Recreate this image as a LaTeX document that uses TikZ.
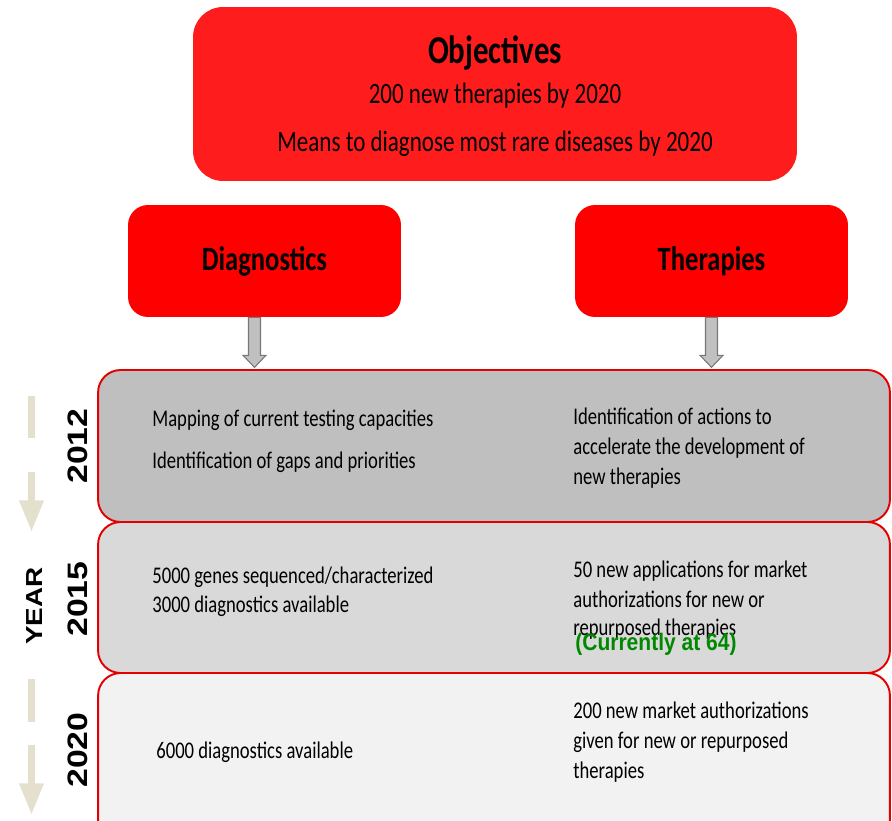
\documentclass[tikz,border=0pt]{standalone}
\usepackage{fontspec}
\setmainfont{Carlito}[FakeStretch=0.78]
\newfontfamily\yearfont{Liberation Sans}[FakeStretch=1.2]
\newfontfamily\nowfont{Liberation Sans}[FakeStretch=0.88]
\usetikzlibrary{arrows.meta,positioning}
\definecolor{objred}{RGB}{255,28,28}
\definecolor{headred}{RGB}{255,0,0}
\definecolor{rimred}{RGB}{228,0,0}
\definecolor{row2012}{RGB}{191,191,191}
\definecolor{row2015}{RGB}{217,217,217}
\definecolor{row2020}{RGB}{242,242,242}
\definecolor{yeartan}{RGB}{229,223,205}
\definecolor{arrowgray}{RGB}{192,192,192}
\definecolor{arrowrim}{RGB}{120,120,120}
\definecolor{nowgreen}{RGB}{0,136,0}

\begin{document}
\begin{tikzpicture}[x=0.02cm, y=-0.02cm,
        headbox/.style={fill=headred, rounded corners=0.4cm, minimum width=5.46cm, minimum height=2.24cm,
                font=\bfseries\fontsize{19.4}{22}\selectfont},
        rowbox/.style={draw=rimred, line width=1.1pt, rounded corners=0.45cm, minimum width=15.84cm},
        rowtext/.style={anchor=base west, inner sep=0pt, font=\fontsize{13.6}{16}\selectfont},
        objtext/.style={anchor=base, inner sep=0pt, font=\fontsize{16.8}{19}\selectfont},
        yearlabel/.style={rotate=90, inner sep=0pt, font=\yearfont\bfseries\fontsize{16}{18}\selectfont},
        blockarrow/.style={fill=arrowgray, draw=arrowrim, line width=0.6pt},
        yearline/.style={draw=yeartan, line width=4pt}]
        \useasboundingbox (0,0) rectangle (892,821);
        \clip (0,0) rectangle (892,821);
        \node[rowbox, fill=row2012, minimum height=3.04cm] (r2012) at (494,446) {};
        \node[rowbox, fill=row2015, minimum height=3.02cm] (r2015) at (494,597.5) {};
        \node[rowbox, fill=row2020, minimum height=4cm] (r2020) at (494,773) {};

        \node[fill=objred, rounded corners=0.6cm, minimum width=12.08cm, minimum height=3.48cm] (obj) at (495,94) {};
        \node[objtext, font=\bfseries\fontsize{22.5}{26}\selectfont] (objtitle) at (495,64) {Objectives};
        \node[objtext] (objgoal1) at (495,104) {200 new therapies by 2020};
        \node[objtext] (objgoal2) at (495,152) {Means to diagnose most rare diseases by 2020};

        \node[headbox] (diag) at (264.5,261) {Diagnostics};
        \node[headbox] (ther) at (711.5,261) {Therapies};
        \draw[blockarrow] (diag.south) ++(-16,0) -- ++(0,38) -- ++(-5.5,0) -- ++(11.5,12)
                -- ++(11.5,-12) -- ++(-5.5,0) -- ++(0,-38) -- cycle;
        \draw[blockarrow] (ther.south) ++(-6,0) -- ++(0,38) -- ++(-5.5,0) -- ++(11.5,12)
                -- ++(11.5,-12) -- ++(-5.5,0) -- ++(0,-38) -- cycle;

        \draw[yearline] (31.5,396) -- (31.5,438);
        \draw[yearline, -{Triangle[width=13pt,length=18pt]}] (31.5,472) -- (31.5,532);
        \draw[yearline] (31.5,679) -- (31.5,722);
        \draw[yearline, -{Triangle[width=13pt,length=18pt]}] (31.5,745) -- (31.5,815);
        \node[yearlabel, font=\yearfont\bfseries\fontsize{13.2}{15}\selectfont] (yaxis) at (34.5,606) {YEAR};
        \node[yearlabel] (y2012) at (78,446) {2012};
        \node[yearlabel] (y2015) at (78,599) {2015};
        \node[yearlabel] (y2020) at (78,750) {2020};

        \node[rowtext] (d2012a) at (152,426) {Mapping of current testing capacities};
        \node[rowtext] (d2012b) at (152,468) {Identification of gaps and priorities};
        \node[rowtext] (t2012a) at (573,424) {Identification of actions to};
        \node[rowtext] (t2012b) at (573,454) {accelerate the development of};
        \node[rowtext] (t2012c) at (573,484) {new therapies};

        \node[rowtext] (d2015a) at (152,583) {5000 genes sequenced/characterized};
        \node[rowtext] (d2015b) at (152,612) {3000 diagnostics available};
        \node[rowtext] (t2015a) at (573,577) {50 new applications for market};
        \node[rowtext] (t2015b) at (573,607) {authorizations for new or};
        \node[rowtext] (t2015c) at (573,635) {repurposed therapies};
        \node[rowtext, font=\nowfont\bfseries\fontsize{13.6}{16}\selectfont, text=nowgreen] (now) at (575,650) {(Currently at 64)};

        \node[rowtext] (d2020a) at (156,758) {6000 diagnostics available};
        \node[rowtext] (t2020a) at (573,718) {200 new market authorizations};
        \node[rowtext] (t2020b) at (573,748) {given for new or repurposed};
        \node[rowtext] (t2020c) at (573,778) {therapies};
\end{tikzpicture}
\end{document}
